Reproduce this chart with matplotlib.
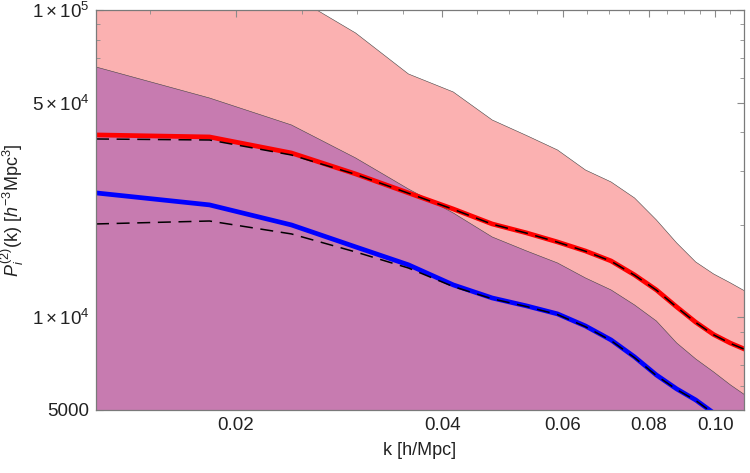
import matplotlib
matplotlib.use("Agg")
import matplotlib.pyplot as plt
from matplotlib.ticker import FixedLocator, NullFormatter, FixedFormatter

plt.rcParams['font.family'] = ['Liberation Sans', 'DejaVu Sans']
plt.rcParams['mathtext.fontset'] = 'custom'
plt.rcParams['mathtext.rm'] = 'Liberation Sans'
plt.rcParams['mathtext.it'] = 'Liberation Sans:italic'
plt.rcParams['mathtext.bf'] = 'Liberation Sans:bold'

# k grid [h/Mpc]
k = [0.0125, 0.0183, 0.0241, 0.0299, 0.0357, 0.0415, 0.0473, 0.0531, 0.0589,
     0.0647, 0.0705, 0.0763, 0.0821, 0.0879, 0.0937, 0.0995, 0.1053, 0.1111]

# pink band (upper / lower)
pink_upper = [189000, 145000, 111900, 84150, 61930, 54120, 43880, 39050, 35050,
              30170, 27590, 24470, 20760, 17470, 15150, 13850, 12950, 12110]
pink_lower = [1000] * 18
# purple band (upper / lower)
purple_upper = [65260, 51730, 42270, 33010, 26170, 21870, 18270, 16450, 15040,
                13440, 12290, 10980, 9740, 8260, 7330, 6650, 6033, 5555]
purple_lower = [1000] * 18

# red curve and its dashed counterpart
red = [39230, 38640, 34270, 29290, 25410, 22530, 20140, 18830, 17600,
       16450, 15270, 13750, 12290, 10820, 9650, 8800, 8250, 7840]
red_dashed = [38060, 37770, 33760, 29200, 25350, 22480, 20100, 18800, 17570,
              16420, 15240, 13720, 12270, 10800, 9630, 8780, 8230, 7830]
# blue curve and its dashed counterpart
blue = [25410, 23230, 19990, 16960, 14830, 12760, 11570, 10900, 10270,
        9380, 8450, 7440, 6500, 5855, 5390, 4890, 4305, 3707]
blue_dashed = [20140, 20590, 18690, 16330, 14480, 12600, 11500, 10850, 10220,
               9330, 8410, 7400, 6470, 5830, 5370, 4870, 4290, 3690]

y_major = [5000, 1e4, 5e4, 1e5]
y_major_labels = ['5000', r'$1\times10^{4}$', r'$5\times10^{4}$', r'$1\times10^{5}$']
y_minor = [6000, 7000, 8000, 9000, 2e4, 3e4, 4e4, 6e4, 7e4, 8e4, 9e4]
x_major = [0.02, 0.04, 0.06, 0.08, 0.10]
x_major_labels = ['0.02', '0.04', '0.06', '0.08', '0.10']
x_minor = [0.015, 0.025, 0.03, 0.035, 0.045, 0.05, 0.055, 0.065, 0.07, 0.075,
           0.085, 0.09, 0.095, 0.105]

fig = plt.figure(figsize=(7.5, 4.73), dpi=100)
ax = fig.add_axes([0.128, 0.1332, 0.864, 0.8457])
ax.set_xscale('log')
ax.set_yscale('log')

edge = '#444444'
ax.fill_between(k, pink_lower, pink_upper, facecolor='#FBB1B1', edgecolor=edge,
                linewidth=0.4, zorder=1)
ax.fill_between(k, purple_lower, purple_upper, facecolor='#C77BB0', edgecolor=edge,
                linewidth=0.4, zorder=2)

ax.plot(k, red, color='#FF0000', lw=3.4, zorder=3, solid_capstyle='butt',
        solid_joinstyle='round')
ax.plot(k, red_dashed, color='black', lw=1.1, dashes=(8.5, 5), zorder=4)
ax.plot(k, blue, color='#0000FF', lw=3.4, zorder=3, solid_capstyle='butt',
        solid_joinstyle='round')
ax.plot(k, blue_dashed, color='black', lw=1.1, dashes=(8.5, 5), zorder=4)

ax.set_xlim(0.0125, 0.1102)
ax.set_ylim(5000, 1e5)

ax.xaxis.set_major_locator(FixedLocator(x_major))
ax.xaxis.set_major_formatter(FixedFormatter(x_major_labels))
ax.xaxis.set_minor_locator(FixedLocator(x_minor))
ax.xaxis.set_minor_formatter(NullFormatter())
ax.yaxis.set_major_locator(FixedLocator(y_major))
ax.yaxis.set_major_formatter(FixedFormatter(y_major_labels))
ax.yaxis.set_minor_locator(FixedLocator(y_minor))
ax.yaxis.set_minor_formatter(NullFormatter())

tc = '#8a8a8a'
ax.tick_params(which='both', direction='in', top=True, right=True, color=tc,
               labelsize=13.5, labelcolor='#222222')
ax.tick_params(which='major', length=5, width=0.8, pad=5)
ax.tick_params(which='minor', length=3, width=0.6)
for s in ax.spines.values():
    s.set_color('#7a7a7a')
    s.set_linewidth(0.9)
    s.set_zorder(10)

ax.set_xlabel('k [h/Mpc]', fontsize=13, color='#222222', labelpad=6)
ax.set_ylabel(r'$P_{i}^{(2)}$(k) [$h^{-3}$Mpc$^{3}$]', fontsize=13,
              color='#222222', labelpad=4)

fig.savefig('out.png', dpi=100)
